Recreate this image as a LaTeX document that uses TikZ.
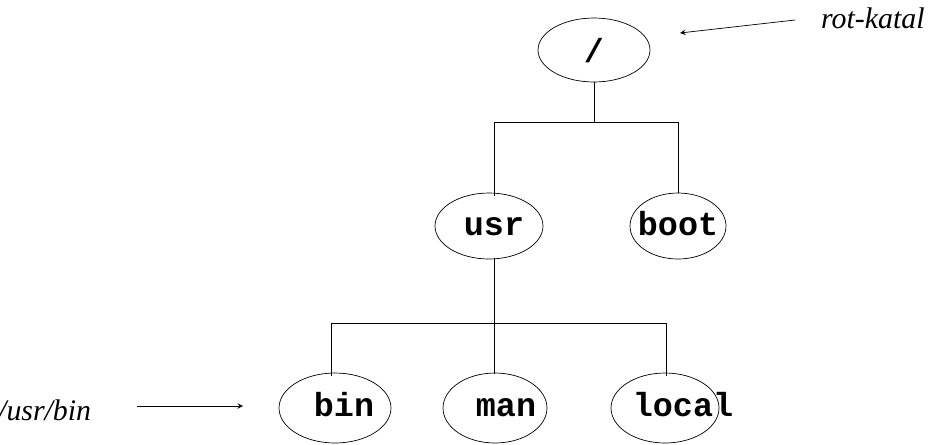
\documentclass[tikz,border=0pt]{standalone}
\usepackage{fontspec}
\setmainfont{Liberation Serif}
\newfontfamily\codefont{Liberation Mono}
\usetikzlibrary{shapes.geometric}

\begin{document}
\begin{tikzpicture}[x=0.02cm, y=-0.02cm,
    dirnode/.style = {draw, ellipse, inner sep=0pt},
    dirname/.style = {anchor=base, font=\codefont\bfseries\fontsize{19}{22}\selectfont},
    note/.style = {font=\itshape\fontsize{17}{20}\selectfont, anchor=west},
    pointer/.style = {->, >=stealth}]
  \useasboundingbox (0,0) rectangle (946,444);
  % directories
  \node[dirnode, minimum width=2.24cm, minimum height=1.28cm] (root) at (594,50) {};
  \node[dirnode, minimum width=2.16cm, minimum height=1.32cm] (usr) at (489,226) {};
  \node[dirnode, minimum width=1.92cm, minimum height=1.32cm] (boot) at (678,226) {};
  \node[dirnode, minimum width=2.24cm, minimum height=1.40cm] (bin) at (335,408) {};
  \node[dirnode, minimum width=2.08cm, minimum height=1.40cm] (man) at (495,408) {};
  \node[dirnode, minimum width=2.16cm, minimum height=1.40cm] (local) at (665,408) {};
  \node[dirname] (roottext) at (594,62) {/};
  \node[dirname] (usrtext) at (494,235) {usr};
  \node[dirname] (boottext) at (678,235) {boot};
  \node[dirname] (bintext) at (344,416) {bin};
  \node[dirname] (mantext) at (506,416) {man};
  \node[dirname] (localtext) at (683,416) {local};
  % tree lines
  \coordinate (j1) at (594,122);
  \coordinate (j2) at (494,323);
  \draw (root.south) -- (j1);
  \draw (494,122) -- (678,122);
  \draw (494,122) -- (494,196);
  \draw (678,122) -- (boot.north);
  \draw (494,258) -- (j2);
  \draw (331,323) -- (666,323);
  \draw (331,323) -- (331,376);
  \draw (494,323) -- (494,374);
  \draw (666,323) -- (666,376);
  % annotations
  \node[note] (rotnote) at (815,18) {rot-katal};
  \node[note] (binnote) at (-8,410) {/usr/bin};
  \draw[pointer] (795,20) -- (680,33);
  \draw[pointer] (137,406) -- (243,406);
\end{tikzpicture}
\end{document}
